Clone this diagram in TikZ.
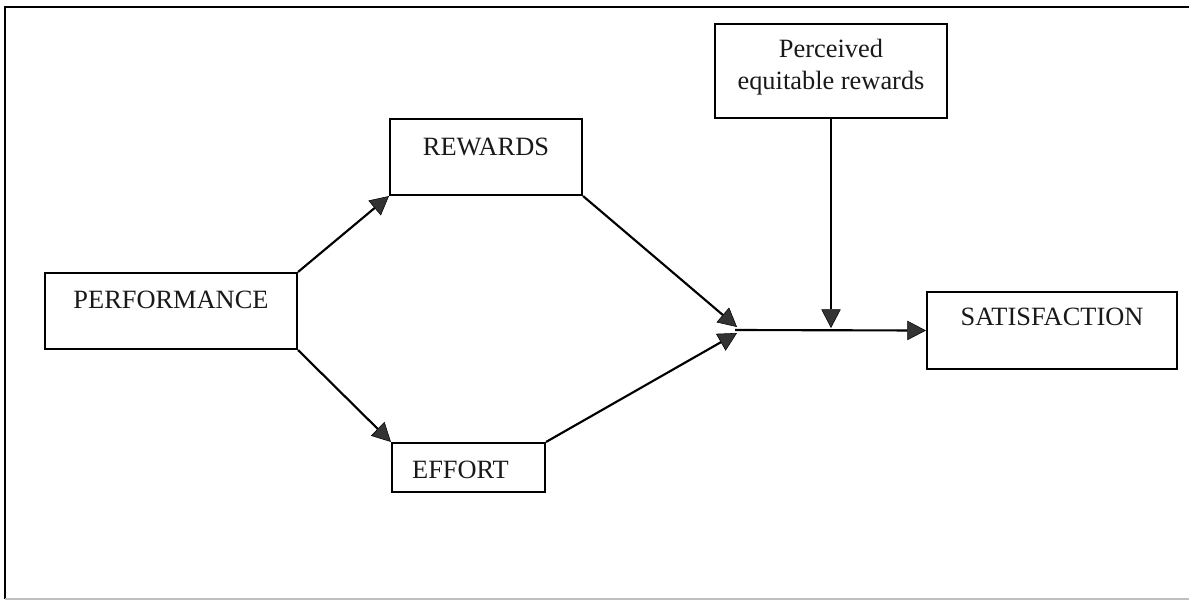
\documentclass[tikz,border=0pt]{standalone}
\usepackage{fontspec}
\setmainfont{Liberation Serif}
\usetikzlibrary{arrows.meta}

\begin{document}
\begin{tikzpicture}[x=0.75pt, y=-0.75pt,
  box/.style={draw=black, line width=1.6pt, rectangle, inner sep=0pt},
  boxtext/.style={font=\fontsize{19.8}{24}\selectfont, text=black!90, inner sep=0pt, align=center},
  link/.style={line width=1.6pt, draw=black,
    -{Triangle[length=14pt, width=14.5pt, fill=black!80, line width=0.4pt]}},
  wire/.style={line width=1.6pt, draw=black}]

  \useasboundingbox (0,0) rectangle (1189,601);

  % outer frame
  \draw[line width=1.6pt] (1189,7) -- (5,7) -- (5,599);
  \draw[line width=1.2pt, black!25] (5,599) -- (1189,599);

  % boxes (centre, size in px)
  \node[box, minimum width=252*0.75pt, minimum height=76*0.75pt,
        label={[boxtext, yshift=8.25pt]center:PERFORMANCE}] (perf) at (171,311) {};
  \node[box, minimum width=192*0.75pt, minimum height=76*0.75pt,
        label={[boxtext, yshift=7.5pt]center:REWARDS}] (rew) at (486,157) {};
  \node[box, minimum width=153*0.75pt, minimum height=49*0.75pt,
        label={[boxtext, yshift=-1.9pt, xshift=-6pt]center:EFFORT}] (eff) at (468.5,467.5) {};
  \node[box, minimum width=232*0.75pt, minimum height=94*0.75pt,
        label={[boxtext, yshift=2.6pt]center:Perceived\\equitable rewards}] (perc) at (831,71) {};
  \node[box, minimum width=250*0.75pt, minimum height=77*0.75pt,
        label={[boxtext, yshift=10.1pt]center:SATISFACTION}] (sat) at (1052,330.5) {};

  % junction where the two paths meet
  \coordinate (j) at (735,330);
  \coordinate (jup) at (737,327);
  \coordinate (jdn) at (737,333);
  \coordinate (drop) at (831,328);

  % connectors
  \draw[link] (perf.north east) -- (rew.south west);
  \draw[link] (perf.south east) -- (eff.north west);
  \draw[link] (rew.south east) -- (jup);
  \draw[link] (eff.north east) -- (jdn);
  \draw[link] (j) -- (sat.west);
  \draw[link] (perc.south) -- (drop);
\end{tikzpicture}
\end{document}
